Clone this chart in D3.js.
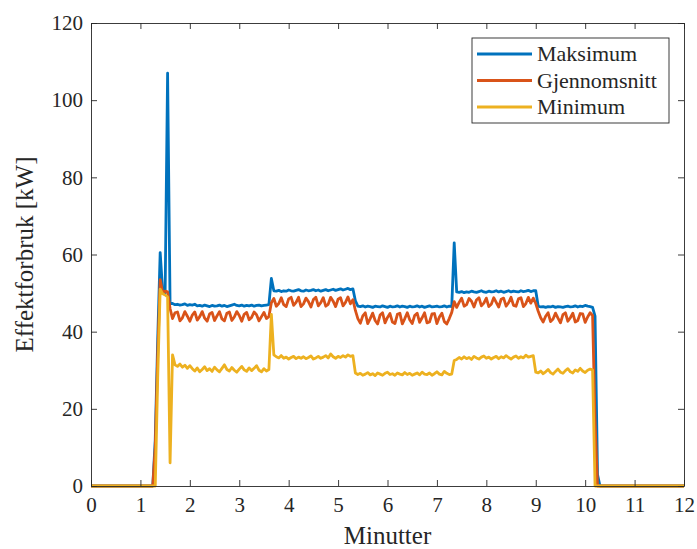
<!DOCTYPE html>
<html>
<head>
<meta charset="utf-8">
<script src="https://cdn.jsdelivr.net/npm/d3@7"></script>
<style>
  body { margin: 0; background: #fff; }
  text { font-family: "Liberation Serif", serif; fill: #262626; }
</style>
</head>
<body>
<svg width="697" height="549"></svg>
<script>
// samples every 0.05 min (3 s), starting at 1.25 min
const start = 1.25
const step = 0.05

const maksimum = [
  0, 12, 38, 60.5, 50.5, 50.0, 107, 47.3,
  47.3, 47.0, 47.1, 46.9, 47.0, 47.2, 46.8, 47.0, 46.9, 47.1,
  46.7, 46.8, 46.6, 46.9, 46.7, 46.5, 46.8, 46.6, 46.7, 46.9,
  46.6, 46.8, 46.5, 46.7, 46.9, 47.1, 46.8, 46.7, 46.9, 46.6,
  46.8, 46.7, 46.9, 46.6, 46.8, 46.9, 46.7, 46.8, 46.9, 47.0,
  53.8, 50.6, 50.5, 50.7, 50.4, 50.6, 50.5, 50.8, 50.6, 50.5,
  50.7, 50.9, 50.6, 50.5, 50.8, 50.6, 50.7, 50.9, 50.6, 50.8,
  50.5, 50.7, 50.9, 50.6, 50.8, 51.0, 50.7, 50.9, 51.1, 50.8,
  51.0, 51.2, 50.9, 51.1,
  48.0, 46.6, 46.5, 46.7, 46.4, 46.6, 46.5, 46.3, 46.6, 46.5,
  46.4, 46.7, 46.5, 46.3, 46.6, 46.4, 46.5, 46.7, 46.4, 46.6,
  46.5, 46.3, 46.6, 46.4, 46.5, 46.7, 46.4, 46.6, 46.3, 46.5,
  46.7, 46.4, 46.5, 46.6, 46.4, 46.5, 46.7, 46.4, 46.6, 46.5,
  63.0, 50.3, 50.2, 50.4, 50.1, 50.3, 50.2, 50.5, 50.3, 50.2,
  50.4, 50.6, 50.3, 50.2, 50.5, 50.3, 50.4, 50.6, 50.3, 50.5,
  50.2, 50.4, 50.6, 50.3, 50.5, 50.4, 50.3, 50.6, 50.4, 50.5,
  50.7, 50.4, 50.6, 50.6,
  46.6, 46.4, 46.5, 46.3, 46.5, 46.4, 46.6, 46.3, 46.5, 46.4,
  46.3, 46.5, 46.6, 46.4, 46.5, 46.7, 46.4, 46.6, 46.5, 46.8,
  46.6, 46.5, 46.3,
  44, 3, 0
]

const gjennomsnitt = [
  0, 10, 34, 53.5, 50.0, 50.5, 50.3, 46.0,
  43.4, 44.9, 45.1, 42.8, 43.6, 45.2, 44.0, 42.7, 44.3, 45.1,
  43.0, 43.9, 45.2, 43.5, 42.7, 44.6, 45.0, 42.9, 44.1, 45.2,
  43.3, 42.8, 44.8, 45.1, 42.9, 43.8, 45.2, 44.2, 42.7, 44.5,
  45.0, 43.1, 43.7, 45.1, 44.4, 42.8, 43.9, 45.0, 43.4, 43.9,
  47.5, 48.6, 46.6, 47.3, 48.8, 47.0, 46.5, 48.5, 48.9, 46.8,
  47.6, 48.9, 46.5, 47.2, 48.7, 47.8, 46.4, 48.3, 48.9, 46.7,
  47.5, 48.8, 46.6, 47.1, 48.9, 47.9, 46.5, 48.4, 48.8, 46.7,
  47.6, 49.0, 47.2, 48.3,
  45.5, 43.4, 42.2, 44.1, 44.9, 42.1, 43.4, 44.8, 42.9, 42.0,
  44.3, 44.9, 42.3, 43.7, 44.7, 42.5, 42.1, 44.5, 44.8, 42.0,
  43.4, 44.9, 43.1, 42.1, 44.2, 44.8, 42.4, 43.6, 44.9, 42.3,
  42.5, 44.6, 44.7, 42.1, 43.8, 44.8, 42.6, 42.0, 43.4, 45.0,
  47.8, 46.3, 47.6, 48.7, 46.6, 47.0, 48.6, 47.9, 46.4, 48.2,
  48.8, 46.7, 47.4, 48.7, 46.5, 47.1, 48.8, 47.6, 46.4, 48.4,
  48.7, 46.6, 47.5, 48.9, 46.8, 46.6, 48.5, 48.8, 46.5, 47.3,
  48.9, 47.4, 48.7, 47.3,
  45.3, 43.6, 42.5, 44.0, 44.9, 42.6, 43.3, 44.8, 43.5, 42.3,
  44.4, 44.9, 42.7, 43.6, 44.8, 42.5, 42.9, 44.7, 44.6, 42.4,
  43.8, 44.9, 44.2,
  17, 0, 0
]

const minimum = [
  0, 0, 28, 51.0, 49.8, 49.5, 49.0, 6.0,
  34.0, 31.4, 31.0, 31.6, 30.8, 31.3, 30.5, 31.2, 30.4, 29.8,
  30.6, 29.6, 30.2, 30.9, 29.9, 30.4, 29.7, 30.8, 30.1, 29.6,
  30.5, 31.4, 30.2, 29.8, 30.7, 30.0, 29.5, 30.3, 31.0, 30.1,
  29.7, 30.6, 29.9, 30.5, 31.2, 30.0, 29.6, 30.4, 29.8, 30.2,
  44.5, 34.0, 33.5, 33.2, 33.8, 33.1, 33.4, 32.9, 33.3, 33.6,
  33.0, 33.4, 33.1, 33.5, 33.0, 33.3, 33.7, 32.9, 33.2, 33.6,
  33.1, 33.4, 33.8, 33.2, 34.2, 33.5, 33.1, 33.6, 33.3, 33.8,
  33.4, 34.0, 33.6, 33.8,
  29.3, 28.9, 29.2, 28.7, 29.0, 29.4, 28.8, 29.1, 28.6, 29.3,
  29.0, 28.7, 29.2, 29.5, 28.9, 29.1, 28.7, 29.3, 29.0, 28.8,
  29.4, 28.9, 29.2, 28.7, 29.0, 29.3, 28.8, 29.5, 29.0, 28.9,
  29.3, 28.7, 29.1, 29.6, 29.0, 28.8, 29.7, 29.2, 28.9, 29.0,
  32.5, 32.8, 33.3, 32.9, 33.5, 33.0, 33.3, 32.8, 33.6, 33.2,
  32.9, 33.4, 33.7, 33.1, 33.4, 32.9, 33.3, 33.6, 33.0, 33.5,
  33.2, 33.8, 33.3, 32.9, 33.4, 33.7, 33.1, 33.5, 33.2, 33.9,
  33.4, 33.6, 33.8, 29.5,
  29.3, 29.8, 29.1, 29.6, 30.2, 29.4, 29.0, 29.7, 30.3, 29.5,
  29.2, 29.9, 30.4, 29.6, 29.3, 30.1, 29.7, 30.5, 29.8, 29.4,
  30.0, 30.3, 30.1,
  0, 0, 0
]

const seriesNames = ['Maksimum', 'Gjennomsnitt', 'Minimum']
const colors = ['#0072BD', '#D95319', '#EDB120']
const xTicks = [0, 1, 2, 3, 4, 5, 6, 7, 8, 9, 10, 11, 12]
const yTicks = [0, 20, 40, 60, 80, 100, 120]

const svg = d3.select('svg')
const plotLeft = 91, plotRight = 684, plotTop = 23, plotBottom = 486

const x = d3.scaleLinear().domain([0, 12]).range([plotLeft, plotRight])
const y = d3.scaleLinear().domain([0, 120]).range([plotBottom, plotTop])

// line series, padded with zero at both ends of the time axis
const toPoints = vals => [[0, 0]]
  .concat(vals.map((v, i) => [start + i * step, v]))
  .concat([[12, 0]])

const line = d3.line().x(d => x(d[0])).y(d => y(d[1]))

const allSeries = [maksimum, gjennomsnitt, minimum]

svg.selectAll('.series')
  .data(allSeries)
  .enter()
  .append('path')
  .attr('class', 'series')
  .attr('d', d => line(toPoints(d)))
  .attr('fill', 'none')
  .attr('stroke', (d, i) => colors[i])
  .attr('stroke-width', 2.8)
  .attr('stroke-linejoin', 'round')

// axes: box with inward ticks on all four sides
const tick = 6
const styleAxis = g => {
  g.selectAll('path').attr('stroke', '#262626').attr('stroke-width', 0.9)
  g.selectAll('line').attr('stroke', '#262626').attr('stroke-width', 0.9)
  g.selectAll('text').attr('font-family', '"Liberation Serif", serif')
    .attr('font-size', 21).attr('fill', '#262626')
}

svg.append('g')
  .attr('transform', `translate(0,${plotBottom})`)
  .call(d3.axisBottom(x).tickValues(xTicks).tickSizeInner(-tick).tickSizeOuter(0).tickPadding(11))
  .call(styleAxis)

svg.append('g')
  .attr('transform', `translate(0,${plotTop})`)
  .call(d3.axisTop(x).tickValues(xTicks).tickSizeInner(-tick).tickSizeOuter(0).tickFormat(''))
  .call(styleAxis)

svg.append('g')
  .attr('transform', `translate(${plotLeft},0)`)
  .call(d3.axisLeft(y).tickValues(yTicks).tickSizeInner(-tick).tickSizeOuter(0).tickPadding(8))
  .call(styleAxis)

svg.append('g')
  .attr('transform', `translate(${plotRight},0)`)
  .call(d3.axisRight(y).tickValues(yTicks).tickSizeInner(-tick).tickSizeOuter(0).tickFormat(''))
  .call(styleAxis)

// axis labels
svg.append('text')
  .attr('x', (plotLeft + plotRight) / 2)
  .attr('y', 544)
  .attr('text-anchor', 'middle')
  .attr('font-size', 25)
  .text('Minutter')

svg.append('text')
  .attr('transform', `translate(33,${(plotTop + plotBottom) / 2}) rotate(-90)`)
  .attr('text-anchor', 'middle')
  .attr('font-size', 25)
  .text('Effektforbruk [kW]')

// legend
const legend = svg.append('g').attr('transform', 'translate(472,38)')
legend.append('rect')
  .attr('width', 197).attr('height', 85)
  .attr('fill', '#fff').attr('stroke', '#262626').attr('stroke-width', 0.9)

const rows = legend.selectAll('.row')
  .data(seriesNames)
  .enter()
  .append('g')
  .attr('class', 'row')
  .attr('transform', (d, i) => `translate(0,${16 + i * 26.5})`)

rows.append('line')
  .attr('x1', 5).attr('x2', 60)
  .attr('stroke', (d, i) => colors[i])
  .attr('stroke-width', 2.8)

rows.append('text')
  .attr('x', 65).attr('y', 7)
  .attr('font-size', 22)
  .text(d => d)
</script>
</body>
</html>
